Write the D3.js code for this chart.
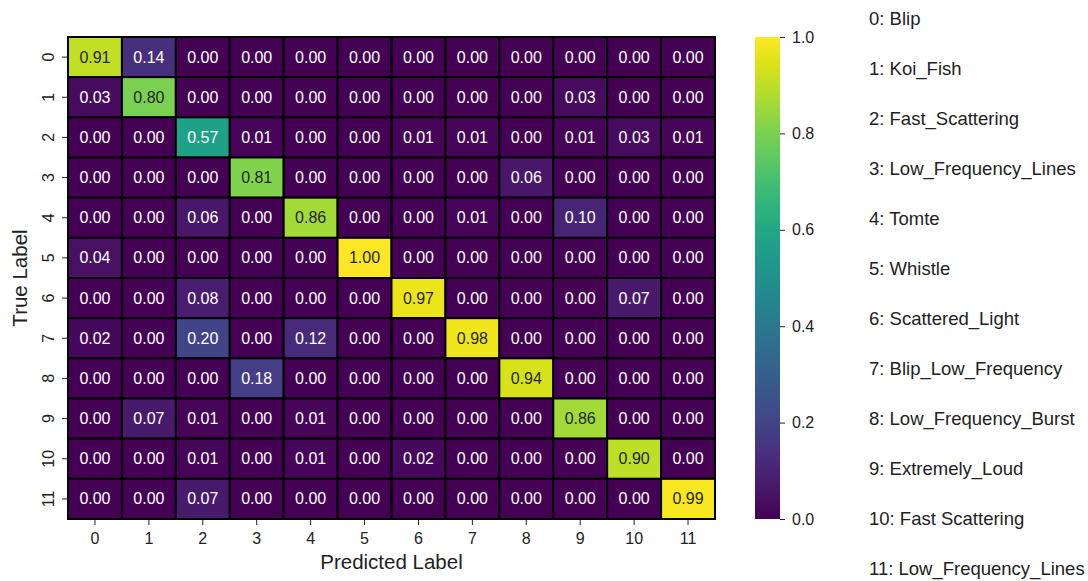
<!DOCTYPE html>
<html>
<head>
<meta charset="utf-8">
<script src="https://cdn.jsdelivr.net/npm/d3@7"></script>
<style>
  html, body { margin: 0; padding: 0; background: #fff; }
  svg { display: block; font-family: "Liberation Sans", Arial, sans-serif; }
  .tick text { font-size: 16px; font-family: "Liberation Sans", Arial, sans-serif; fill: #222; }
</style>
</head>
<body>
<div id="chart"></div>
<script>
// Confusion matrix heatmap (normalised by true label) with class legend.

const CLASSES = ["0", "1", "2", "3", "4", "5", "6", "7", "8", "9", "10", "11"];
const CLASS_NAMES = [
  "Blip", "Koi_Fish", "Fast_Scattering", "Low_Frequency_Lines", "Tomte",
  "Whistle", "Scattered_Light", "Blip_Low_Frequency", "Low_Frequency_Burst",
  "Extremely_Loud", "Fast Scattering", "Low_Frequency_Lines",
];
// rows = true label, columns = predicted label
const MATRIX = [
  [0.91, 0.14, 0, 0, 0, 0, 0, 0, 0, 0, 0, 0],
  [0.03, 0.80, 0, 0, 0, 0, 0, 0, 0, 0.03, 0, 0],
  [0, 0, 0.57, 0.01, 0, 0, 0.01, 0.01, 0, 0.01, 0.03, 0.01],
  [0, 0, 0, 0.81, 0, 0, 0, 0, 0.06, 0, 0, 0],
  [0, 0, 0.06, 0, 0.86, 0, 0, 0.01, 0, 0.10, 0, 0],
  [0.04, 0, 0, 0, 0, 1.00, 0, 0, 0, 0, 0, 0],
  [0, 0, 0.08, 0, 0, 0, 0.97, 0, 0, 0, 0.07, 0],
  [0.02, 0, 0.20, 0, 0.12, 0, 0, 0.98, 0, 0, 0, 0],
  [0, 0, 0, 0.18, 0, 0, 0, 0, 0.94, 0, 0, 0],
  [0, 0.07, 0.01, 0, 0.01, 0, 0, 0, 0, 0.86, 0, 0],
  [0, 0, 0.01, 0, 0.01, 0, 0.02, 0, 0, 0, 0.90, 0],
  [0, 0, 0.07, 0, 0, 0, 0, 0, 0, 0, 0, 0.99],
];
const COLORBAR_TICKS = [0, 0.2, 0.4, 0.6, 0.8, 1.0];

const width = 1088;
const height = 581;
const heat = { left: 68, top: 37, right: 715, bottom: 519 };
const bar = { left: 755, right: 780 };

const svg = d3.select("#chart").append("svg")
  .attr("width", width)
  .attr("height", height);

const x = d3.scaleBand().domain(CLASSES).range([heat.left, heat.right]);
const y = d3.scaleBand().domain(CLASSES).range([heat.top, heat.bottom]);
const color = d3.scaleSequential(d3.interpolateViridis).domain([0, 1]);

// seaborn-style text contrast: dark text on light cells
function textColor(v) {
  const c = d3.rgb(color(v));
  const lin = (u) => {
    u /= 255;
    return u <= 0.03928 ? u / 12.92 : Math.pow((u + 0.055) / 1.055, 2.4);
  };
  const lum = 0.2126 * lin(c.r) + 0.7152 * lin(c.g) + 0.0722 * lin(c.b);
  return lum > 0.408 ? "#262626" : "#ffffff";
}

const cells = MATRIX.flatMap((row, i) =>
  row.map((v, j) => ({ t: CLASSES[i], p: CLASSES[j], v })));

// ---- cells ----
svg.append("g").selectAll("rect")
  .data(cells)
  .enter()
  .append("rect")
  .attr("x", (d) => x(d.p))
  .attr("y", (d) => y(d.t))
  .attr("width", x.bandwidth())
  .attr("height", y.bandwidth())
  .attr("fill", (d) => color(d.v))
  .attr("stroke", "#000")
  .attr("stroke-width", 2);

svg.append("g").selectAll("text")
  .data(cells)
  .enter()
  .append("text")
  .attr("x", (d) => x(d.p) + x.bandwidth() / 2)
  .attr("y", (d) => y(d.t) + y.bandwidth() / 2)
  .attr("text-anchor", "middle")
  .attr("dominant-baseline", "central")
  .attr("font-size", 16)
  .attr("fill", (d) => textColor(d.v))
  .text((d) => d.v.toFixed(2));

// ---- axes ----
const xAxis = svg.append("g")
  .attr("transform", `translate(0,${heat.bottom + 1})`)
  .call(d3.axisBottom(x).tickSize(5).tickPadding(4));
const yAxis = svg.append("g")
  .attr("transform", `translate(${heat.left - 1},0)`)
  .call(d3.axisLeft(y).tickSize(5).tickPadding(4));

for (const ax of [xAxis, yAxis]) {
  ax.select(".domain").remove();
  ax.selectAll(".tick line").attr("stroke", "#222");
}
xAxis.selectAll(".tick text").attr("dy", "0.95em");
yAxis.selectAll(".tick text")
  .attr("text-anchor", "middle")
  .attr("dy", null)
  .attr("x", null)
  .attr("transform", "translate(-19,0) rotate(-90)")
  .attr("dominant-baseline", "central");

svg.append("text")
  .attr("x", (heat.left + heat.right) / 2)
  .attr("y", 569)
  .attr("text-anchor", "middle")
  .attr("font-size", 20.5)
  .attr("fill", "#222")
  .text("Predicted Label");

svg.append("text")
  .attr("transform", `translate(27,${(heat.top + heat.bottom) / 2}) rotate(-90)`)
  .attr("text-anchor", "middle")
  .attr("font-size", 20.5)
  .attr("fill", "#222")
  .text("True Label");

// ---- colorbar ----
const grad = svg.append("defs").append("linearGradient")
  .attr("id", "viridis")
  .attr("x1", 0).attr("y1", 1).attr("x2", 0).attr("y2", 0);
d3.range(0, 1.0001, 0.05).forEach((t) => {
  grad.append("stop").attr("offset", t).attr("stop-color", color(t));
});

const cbScale = d3.scaleLinear().domain([0, 1]).range([heat.bottom, heat.top]);

svg.append("rect")
  .attr("x", bar.left)
  .attr("y", heat.top)
  .attr("width", bar.right - bar.left)
  .attr("height", heat.bottom - heat.top)
  .attr("fill", "url(#viridis)");

const cbAxis = svg.append("g")
  .attr("transform", `translate(${bar.right},0)`)
  .call(d3.axisRight(cbScale).tickValues(COLORBAR_TICKS)
    .tickFormat(d3.format(".1f")).tickSize(5).tickPadding(7));
cbAxis.select(".domain").remove();
cbAxis.selectAll(".tick line").attr("stroke", "#222");

// ---- class legend ----
const legendY = d3.scalePoint().domain(CLASSES).range([24.5, 575]);
svg.append("g").selectAll("text")
  .data(CLASSES)
  .enter()
  .append("text")
  .attr("x", 869)
  .attr("y", (d) => legendY(d))
  .attr("font-size", 18.5)
  .attr("fill", "#222")
  .text((d, i) => `${d}: ${CLASS_NAMES[i]}`);
</script>
</body>
</html>
